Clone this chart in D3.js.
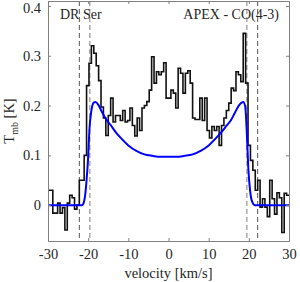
<!DOCTYPE html>
<html>
<head>
<meta charset="utf-8">
<script src="https://cdn.jsdelivr.net/npm/d3@7"></script>
<style>
  body { margin: 0; background: #fff; }
  svg text { font-family: "Liberation Serif", "Times New Roman", serif; fill: #262626; }
</style>
</head>
<body>
<div id="plot"></div>
<script>
// observed spectrum, 0.6 km/s channels starting at -30 km/s
const chanWidth = 0.6;
const tmb = [
  0.03, 0.03, -0.016, -0.016, 0.004, -0.016, -0.005, -0.05, 0.004, 0.02,
  0.015, -0.008, 0.0, 0.05, 0.05, 0.1, 0.24, 0.285, 0.32, 0.305,
  0.28, 0.25, 0.197, 0.175, 0.14, 0.18, 0.215, 0.167, 0.18, 0.18,
  0.17, 0.19, 0.167, 0.17, 0.195, 0.16, 0.139, 0.175, 0.15, 0.195,
  0.2, 0.208, 0.231, 0.298, 0.245, 0.268, 0.262, 0.268, 0.286, 0.215,
  0.215, 0.231, 0.225, 0.195, 0.275, 0.265, 0.225, 0.265, 0.27, 0.245,
  0.175, 0.172, 0.172, 0.215, 0.17, 0.215, 0.15, 0.135, 0.158, 0.15,
  0.158, 0.12, 0.16, 0.175, 0.19, 0.205, 0.235, 0.23, 0.268, 0.262,
  0.248, 0.345, 0.245, 0.12, 0.09, 0.07, 0.03, 0.05, -0.004, 0.013,
  -0.004, -0.023, 0.05, 0.013, -0.018, 0.025, 0.015, -0.055, 0.024, 0.02
];

// disk model (blue)
const modelVel = [-30, -21.6, -21.2, -20.8, -20.4, -20.0, -19.7, -19.2, -18.6, -18.2, -17.5, -16.5,
  -15.5, -14.5, -13, -12, -10, -8, -6, -4, -2, 0, 2, 4, 6, 8, 10, 12, 13, 14.5, 15.5, 16.5,
  17.5, 18.2, 18.6, 19.1, 19.5, 19.9, 20.3, 20.7, 21.5, 30];
const modelT = [0, 0, 0.003, 0.017, 0.05, 0.097, 0.15, 0.19, 0.206, 0.207, 0.202, 0.186,
  0.172, 0.162, 0.145, 0.136, 0.12, 0.109, 0.102, 0.099, 0.097, 0.097, 0.097, 0.099, 0.102, 0.109, 0.12, 0.136, 0.145, 0.16, 0.17, 0.185,
  0.2, 0.206, 0.207, 0.198, 0.145, 0.07, 0.03, 0.01, 0, 0];

const outerLines = [-22.2, 22.2];
const innerLines = [-19.6, 19.5];
const xTicks = [-30, -20, -10, 0, 10, 20, 30];
const yTicks = [0, 0.1, 0.2, 0.3, 0.4];

const width = 300, height = 282;
const svg = d3.select("#plot").append("svg")
  .attr("width", width).attr("height", height);

const x = d3.scaleLinear().domain([-30, 30]).range([48, 289]);
const y = d3.scaleLinear().domain([-0.072, 0.41]).range([241, 1]);

svg.append("defs").append("clipPath").attr("id", "clip")
  .append("rect").attr("x", 48).attr("y", 1).attr("width", 241).attr("height", 240);

const g = svg.append("g").attr("clip-path", "url(#clip)");

// dashed velocity markers
g.selectAll("line.outer").data(outerLines).enter().append("line")
  .attr("class", "outer")
  .attr("x1", d => x(d)).attr("x2", d => x(d))
  .attr("y1", y(0.41)).attr("y2", y(-0.072))
  .attr("stroke", "#555").attr("stroke-width", 1).attr("stroke-dasharray", "5,3");
g.selectAll("line.inner").data(innerLines).enter().append("line")
  .attr("class", "inner")
  .attr("x1", d => x(d)).attr("x2", d => x(d))
  .attr("y1", y(0.41)).attr("y2", y(-0.072))
  .attr("stroke", "#aaa").attr("stroke-width", 1.5).attr("stroke-dasharray", "5,3");

// histogram
const steps = tmb.map((t, i) => [-30 + i * chanWidth, t]);
steps.push([30, tmb[tmb.length - 1]]);
const stepLine = d3.line().x(d => x(d[0])).y(d => y(d[1])).curve(d3.curveStepAfter);
g.append("path").datum(steps)
  .attr("d", stepLine)
  .attr("fill", "none").attr("stroke", "#111").attr("stroke-width", 1.6);

// model
const modelLine = d3.line().x((d, i) => x(modelVel[i])).y(d => y(d)).curve(d3.curveMonotoneX);
g.append("path").datum(modelT)
  .attr("d", modelLine)
  .attr("fill", "none").attr("stroke", "#0000ff").attr("stroke-width", 2);

// axes (ticks inside, MATLAB box)
const axColor = "#808080";
const xAxis = svg.append("g").attr("transform", `translate(0,241)`)
  .call(d3.axisBottom(x).tickValues(xTicks).tickSize(-3).tickPadding(8).tickFormat(d => String(d)));
const xTop = svg.append("g").attr("transform", `translate(0,1)`)
  .call(d3.axisTop(x).tickValues(xTicks).tickSize(-3).tickFormat(""));
const yAxis = svg.append("g").attr("transform", `translate(48,0)`)
  .call(d3.axisLeft(y).tickValues(yTicks).tickSize(-3).tickPadding(7).tickFormat(d => d === 0 ? "0" : d3.format(".1f")(d)));
const yRight = svg.append("g").attr("transform", `translate(289,0)`)
  .call(d3.axisRight(y).tickValues(yTicks).tickSize(-3).tickFormat(""));

[xAxis, xTop, yAxis, yRight].forEach(a => {
  a.select(".domain").attr("stroke", axColor);
  a.selectAll(".tick line").attr("stroke", axColor);
  a.selectAll(".tick text").attr("font-size", 14.5).attr("font-family", "Liberation Serif").attr("fill", "#262626");
});
// top label sits a little lower so it stays inside the frame
yAxis.selectAll(".tick text").filter(d => d === 0.4).attr("y", 1.5);

// labels
svg.append("text").attr("x", 168.5).attr("y", 278)
  .attr("text-anchor", "middle").attr("font-size", 14.5).text("velocity [km/s]");

const yl = svg.append("text").attr("transform", "translate(14,121) rotate(-90)")
  .attr("text-anchor", "middle").attr("font-size", 14.5);
yl.append("tspan").text("T");
yl.append("tspan").attr("font-size", 10).attr("dy", 4).text("mb");
yl.append("tspan").attr("dy", -4).text(" [K]");

svg.append("text").attr("x", 60).attr("y", 19).attr("font-size", 14).text("DR Ser");
svg.append("text").attr("x", 279).attr("y", 19).attr("text-anchor", "end").attr("font-size", 14).text("APEX - CO(4-3)");
</script>
</body>
</html>
